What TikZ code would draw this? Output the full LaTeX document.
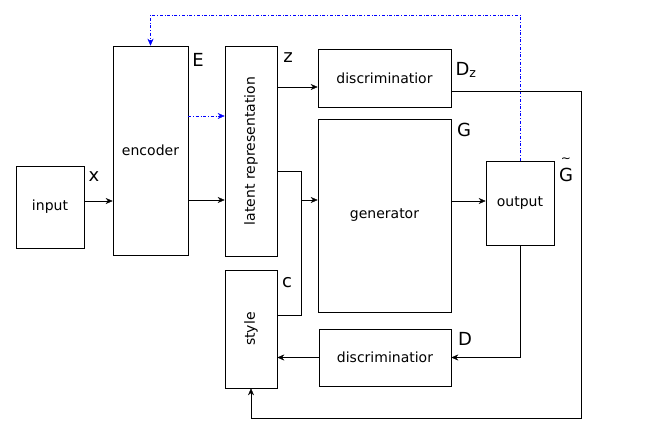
\documentclass[tikz,border=0pt]{standalone}
\usepackage{fontspec}
\setmainfont{DejaVu Sans}
\usetikzlibrary{arrows.meta}
\begin{document}
\begin{tikzpicture}[x=1pt,y=-1pt,
    blk/.style={draw,semithick,minimum width=0pt,inner sep=0pt,font=\fontsize{14}{16}\selectfont},
    txt/.style={font=\fontsize{14}{16}\selectfont},
    lbl/.style={font=\fontsize{18}{20}\selectfont},
    conn/.style={-{Stealth[length=7pt,width=6pt]}},
    enc/.style={blue,dash dot,conn}]
        \useasboundingbox (0,0) rectangle (649,434);

        \node [blk,minimum width=68,minimum height=82] (input) at (50,207) {input};
        \node [blk,minimum width=75,minimum height=209] (encoder) at (150.5,150.5) {encoder};
        \node [blk,minimum width=52,minimum height=210] (latent) at (251,151) {};
        \node [txt,rotate=90] at (latent) {latent representation};
        \node [blk,minimum width=52,minimum height=118] (style) at (251,329) {};
        \node [txt,rotate=90] at (style) {style};
        \node [blk,minimum width=133,minimum height=58] (discz) at (384.5,78) {discriminatior};
        \node [blk,minimum width=133,minimum height=193] (gen) at (384.5,215.5) {generator};
        \node [blk,minimum width=132,minimum height=57] (disc) at (385,357.5) {discriminatior};
        \node [blk,minimum width=68,minimum height=84] (output) at (520,203) {output};

        \node [lbl] at (94,177) {x};
        \node [lbl] at (198,60) {E};
        \node [lbl] at (288,58) {z};
        \node [lbl] at (466,70) {D\textsubscript{z}};
        \node [lbl] at (464,130) {G};
        \node [lbl] (gt) at (566,175) {G};
        \node [font=\fontsize{12}{12}\selectfont] at (566,160) {\textasciitilde};
        \node [lbl] at (287,283) {c};
        \node [lbl] at (465,339) {D};

        \coordinate (top) at (0,15);
        \coordinate (bot) at (0,418);
        \coordinate (right) at (581,0);
        \coordinate (mid) at (301,0);

        \draw [conn] (input.east |- 0,201) -- (encoder.west |- 0,201);
        \draw [conn] (encoder.east |- 0,200) -- (latent.west |- 0,200);
        \draw [enc] (encoder.east |- 0,116) -- (latent.west |- 0,116);
        \draw [enc] (output.north) -- (output.north |- top) -| (encoder.north);
        \draw [conn] (latent.east |- 0,87) -- (discz.west |- 0,87);
        \draw (latent.east |- 0,171) -| (mid |- 0,315) -- (style.east |- 0,315);
        \draw [conn] (mid |- 0,200) -- (gen.west |- 0,200);
        \draw [conn] (gen.east |- 0,201) -- (output.west |- 0,201);
        \draw [conn] (output.south) |- (disc.east);
        \draw [conn] (disc.west) -- (style.east |- disc.west);
        \draw [conn] (discz.east |- 0,91) -| (right |- bot) -| (style.south);
      \end{tikzpicture}
\end{document}
